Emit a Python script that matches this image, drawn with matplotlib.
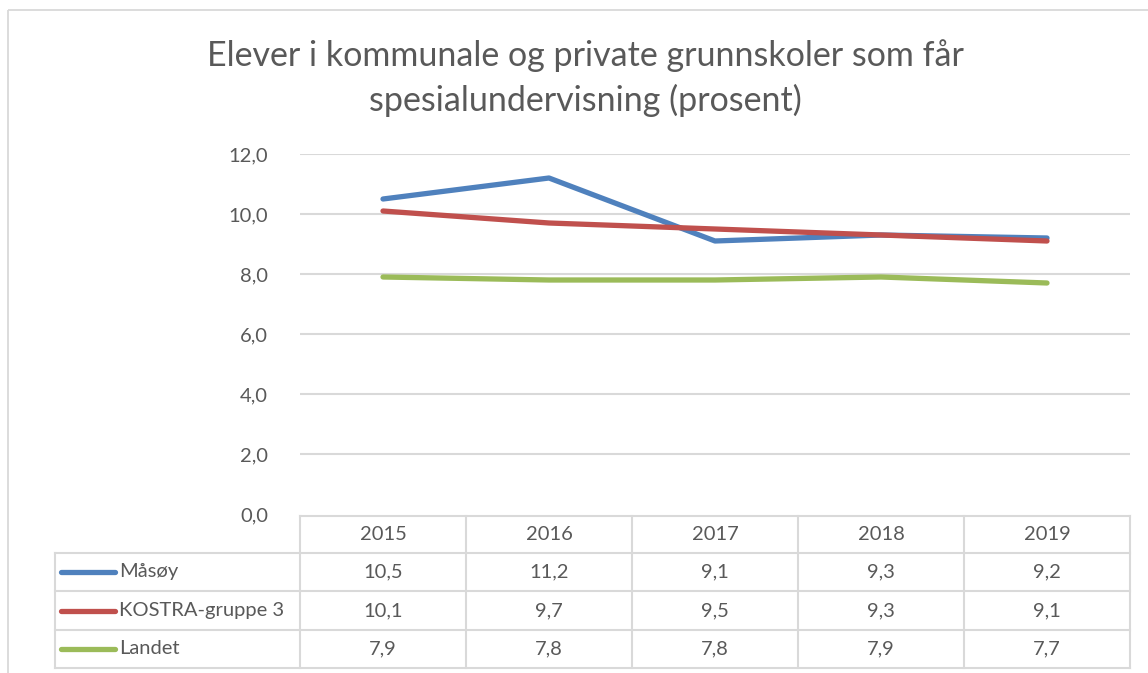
import matplotlib.pyplot as plt
from matplotlib.patches import Rectangle

years = ['2015', '2016', '2017', '2018', '2019']
series_names = ['Måsøy', 'KOSTRA-gruppe 3', 'Landet']
masoy = [10.5, 11.2, 9.1, 9.3, 9.2]
kostra = [10.1, 9.7, 9.5, 9.3, 9.1]
landet = [7.9, 7.8, 7.8, 7.9, 7.7]
colors = ['#4F81BD', '#C0504D', '#9BBB59']
yticks = [0, 2, 4, 6, 8, 10, 12]

W, H = 1148, 673
txt = '#595959'
grid = '#D9D9D9'
plt.rcParams['font.family'] = ['Lato', 'DejaVu Sans']

fig = plt.figure(figsize=(W / 100, H / 100), dpi=100)

# overlay in pixel coords for border + table
ov = fig.add_axes([0, 0, 1, 1])
ov.set_xlim(0, W)
ov.set_ylim(H, 0)
ov.axis('off')
ov.add_patch(Rectangle((8, 10), W, H, fill=False, ec=grid, lw=1.3))

# plot area
x0, x1, y12, y0 = 300, 1130, 154, 514
ax = fig.add_axes([x0 / W, (H - y0) / H, (x1 - x0) / W, (y0 - y12) / H])
ax.set_xlim(-0.5, len(years) - 0.5)
ax.set_ylim(0, 12)
for s in ax.spines.values():
    s.set_visible(False)
ax.set_xticks([])
ax.set_yticks(yticks)
ax.set_yticklabels([f'{v:.1f}'.replace('.', ',') for v in yticks], color=txt, fontsize=14.5)
ax.tick_params(axis='y', length=0, pad=23)
for v in yticks[1:]:
    ax.axhline(v, color=grid, lw=1.5, zorder=0)

data = [masoy, kostra, landet]
for vals, c in zip(data, colors):
    ax.plot(range(len(years)), vals, color=c, lw=3.8, solid_capstyle='round', solid_joinstyle='round')

ov.text(585, 78, 'Elever i kommunale og private grunnskoler som får\nspesialundervisning (prosent)',
        fontsize=24.5, color=txt, ha='center', va='center', linespacing=1.42)

# data table
colw = (x1 - x0) / len(years)
rows = [516, 553, 591, 630, 668]
tl = 55
kw = dict(color=grid, lw=1.5, zorder=1)
ov.plot([x0, x1], [rows[0], rows[0]], **kw)
for r in rows[1:]:
    ov.plot([tl, x1], [r, r], **kw)
ov.plot([tl, tl], [rows[1], rows[-1]], **kw)
for i in range(len(years) + 1):
    ov.plot([x0 + i * colw] * 2, [rows[0], rows[-1]], **kw)

fs = 14.5
for i, y in enumerate(years):
    ov.text(x0 + (i + 0.5) * colw, (rows[0] + rows[1]) / 2, y, ha='center', va='center',
            fontsize=fs, color=txt)
for j, (name, vals, c) in enumerate(zip(series_names, data, colors)):
    yc = (rows[j + 1] + rows[j + 2]) / 2
    ov.plot([61, 115], [yc, yc], color=c, lw=3.8, solid_capstyle='round')
    ov.text(119, yc, name, ha='left', va='center', fontsize=fs, color=txt)
    for i, v in enumerate(vals):
        ov.text(x0 + (i + 0.5) * colw, yc, f'{v:.1f}'.replace('.', ','), ha='center',
                va='center', fontsize=fs, color=txt)

fig.savefig('out.png', dpi=100)
